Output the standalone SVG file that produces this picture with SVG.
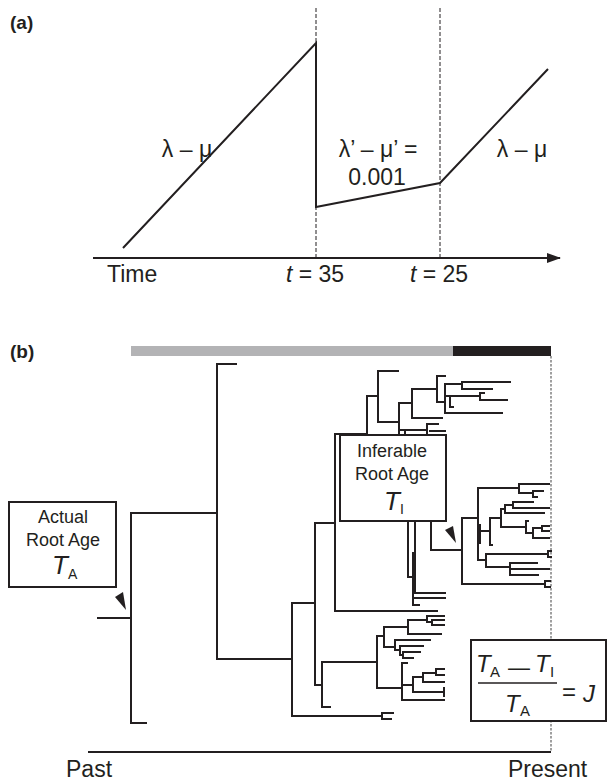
<svg xmlns="http://www.w3.org/2000/svg" width="608" height="782" viewBox="0 0 608 782">
<style>
.t{font-family:"Liberation Sans",Arial,sans-serif;fill:#231f20}
.lbl{font-size:23px}
.bx{font-size:18px}
.it{font-style:italic}
.ln{fill:none;stroke:#231f20;stroke-width:2}
.tr{fill:none;stroke:#231f20;stroke-width:2;stroke-linecap:square}
.dash{fill:none;stroke:#231f20;stroke-width:1;stroke-dasharray:4 2}
.box{fill:#fff;stroke:#231f20;stroke-width:2}
</style>
<defs>
<marker id="arr" markerWidth="14" markerHeight="10" refX="13" refY="5" orient="auto" markerUnits="userSpaceOnUse">
<path d="M0,0 L14,5 L0,10 Z" fill="#231f20"/>
</marker>
</defs>

<g id="panel-a">
<text class="t" x="10" y="29" font-size="19" font-weight="bold">(a)</text>
<line class="dash" x1="316" y1="8" x2="316" y2="258"/>
<line class="dash" x1="440" y1="8" x2="440" y2="258"/>
<line class="ln" x1="93" y1="258" x2="560" y2="258" marker-end="url(#arr)"/>
<polyline class="ln" points="123,248 316,43 316,207 440,183 548,69"/>
<text class="t lbl" x="187" y="157" text-anchor="middle">λ – μ</text>
<text class="t lbl" x="378" y="157" text-anchor="middle">λ’ – μ’ =</text>
<text class="t lbl" x="377" y="185" text-anchor="middle">0.001</text>
<text class="t lbl" x="522" y="157" text-anchor="middle">λ – μ</text>
<text class="t lbl" x="107" y="282">Time</text>
<text class="t lbl" x="315" y="282" text-anchor="middle"><tspan class="it">t</tspan> = 35</text>
<text class="t lbl" x="439" y="282" text-anchor="middle"><tspan class="it">t</tspan> = 25</text>
</g>

<g id="panel-b">
<text class="t" x="10" y="358" font-size="19" font-weight="bold">(b)</text>
<rect x="131" y="346" width="322" height="10" fill="#b3b3b5"/>
<rect x="453" y="346" width="98" height="10" fill="#231f20"/>
<line x1="551" y1="356" x2="551" y2="752" stroke="#808080" stroke-width="1.5" stroke-dasharray="2.5 1.5"/>
<line class="ln" x1="88" y1="752" x2="551" y2="752"/>
<text class="t lbl" x="66" y="777">Past</text>
<text class="t lbl" x="508" y="777">Present</text>
</g>

<g id="tree">
<path class="tr" d="
M98,618 H131
M131,513 V723 H146
M131,513 H217
M217,364 V659
M217,364 H236
M217,659 H292
M292,603 V716 H382
M382,713 V719 M382,713 H393 M382,719 H391
M292,603 H315
M315,523 V685 H322
M315,523 H335
M322,662 V707 H330
M322,662 H377
M377,636 V688
M377,636 H384
M384,627 V647
M384,627 H408
M408,620 V634
M408,620 H427
M427,616 V622
M427,616 H444
M427,622 H432
M432,620 V625
M432,620 H444 M432,625 H444
M408,634 H441
M384,647 H395
M395,640 V650
M395,640 H430
M395,650 H400
M400,646 V655
M400,646 H423
M400,655 H403
M403,652 V658
M403,652 H420 M403,658 H413
M377,688 H402
M402,663 V700
M402,663 H407
M402,685 H413
M413,677 V692
M413,677 H423
M423,673 V682
M423,673 H436
M436,669 V675
M436,669 H444 M436,675 H444
M423,682 H444
M413,692 H444
M444,688 V696
M402,700 H444
M335,434 V611 H437
M335,434 H367
M367,396 V480
M367,396 H378
M378,371 V422
M378,371 H398
M378,422 H399
M399,403 V480
M399,403 H412
M412,389 V418
M412,418 H442
M412,389 H437
M437,376 V402
M437,376 H445
M437,402 H445
M445,384 V413
M445,384 H462
M445,413 H502
M445,396 H480
M480,393 V400
M480,393 H484 M480,400 H507
M450,398 V407 H453
M462,382 V389
M462,382 H510
M462,389 H492
M399,430 H405
M405,430 V445
M405,430 H427
M427,424 V445
M427,424 H438
M430,431 H445
M408,500 V577 H413
M413,553 V605 H419
M415,500 V593 H445
M413,598 H445
M431,500 V550 H462
M462,518 V584 H545
M545,581 V587 M545,581 H550 M545,587 H550
M462,518 H478
M478,488 V560
M478,488 H519
M519,484 V493
M519,484 H549
M519,493 H533
M533,491 V497
M533,491 H543 M533,497 H537
M478,531 H490
M480,525 V543
M490,518 V545
M490,545 H492
M490,518 H501
M501,509 V527
M501,509 H505
M505,505 V513
M505,505 H513
M513,502 V508
M513,502 H533 M513,508 H549
M505,513 H544
M501,527 H526
M526,521 V533
M526,521 H528
M526,533 H533
M533,528 V538
M533,528 H542
M542,526 V531
M542,526 H549 M542,531 H549
M533,538 H549
M478,560 H486
M486,554 V567
M486,554 H548
M548,551 V557 M548,551 H551 M548,557 H551
M486,567 H510
M510,563 V575
M510,563 H537
M510,569 H549
M510,575 H538
"/>
</g>

<g id="box-actual">
<rect class="box" x="9" y="502" width="107" height="85"/>
<text class="t bx" x="63" y="523" text-anchor="middle">Actual</text>
<text class="t bx" x="63" y="546" text-anchor="middle">Root Age</text>
<text class="t it" x="52" y="574" font-size="26">T</text>
<text class="t" x="68" y="579" font-size="14">A</text>
<polygon points="115,597 123,592 126,610" fill="#231f20"/>
</g>

<g id="box-inferable">
<rect class="box" x="340" y="435" width="106" height="86"/>
<text class="t bx" x="392" y="457" text-anchor="middle">Inferable</text>
<text class="t bx" x="392" y="480" text-anchor="middle">Root Age</text>
<text class="t it" x="384" y="510" font-size="26">T</text>
<text class="t" x="400" y="514" font-size="14">I</text>
<polygon points="445,530 453,526 456,543" fill="#231f20"/>
</g>

<g id="box-formula">
<rect class="box" x="471" y="640" width="135" height="81"/>
<text class="t it" x="476" y="672" font-size="24">T</text>
<text class="t" x="490" y="677" font-size="15">A</text>
<text class="t" x="508" y="675" font-size="22">—</text>
<text class="t it" x="535" y="672" font-size="24">T</text>
<text class="t" x="550" y="677" font-size="15">I</text>
<line x1="478" y1="683" x2="557" y2="683" stroke="#231f20" stroke-width="1.5"/>
<text class="t it" x="505" y="712" font-size="24">T</text>
<text class="t" x="520" y="716" font-size="15">A</text>
<text class="t" x="562" y="700" font-size="24">=</text>
<text class="t it" x="583" y="702" font-size="24">J</text>
</g>
</svg>
